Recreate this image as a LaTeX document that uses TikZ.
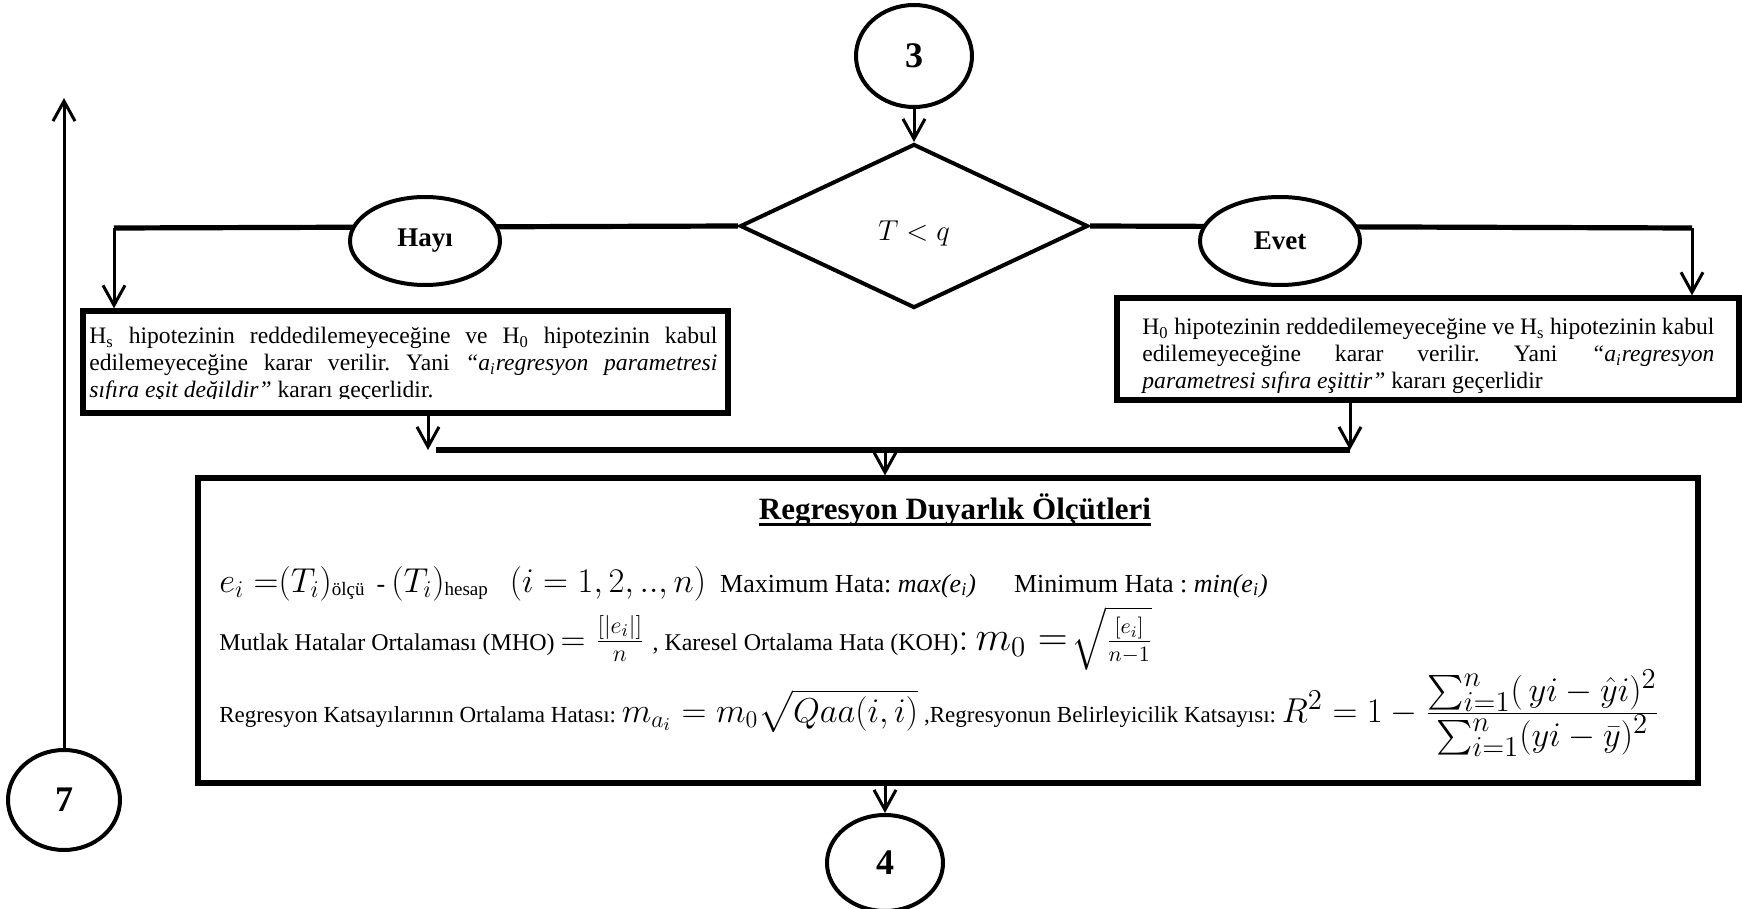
\documentclass[tikz,border=0pt]{standalone}
\usepackage{fontspec}
\setmainfont{Liberation Serif}
\usepackage{amsmath}
\usetikzlibrary{shapes.geometric,arrows.meta}
\hyphenpenalty=10000
\exhyphenpenalty=10000
\frenchspacing
\begin{document}
\begin{tikzpicture}[x=0.5pt,y=-0.5pt,
  arr/.style={-{Straight Barb[length=10pt,width=11pt]}},
  conn/.style={line width=1.5pt},
  heavy/.style={line width=2.6pt},
  term/.style={ellipse,draw,line width=2pt,fill=white,inner sep=0pt,
    font=\bfseries\fontsize{18}{20}\selectfont},
  answer/.style={ellipse,draw,line width=2pt,fill=white,inner sep=0pt,
    font=\bfseries\fontsize{13.5}{15}\selectfont},
  panel/.style={draw,line width=2.6pt,rectangle,inner sep=0pt},
  body/.style={inner sep=0pt,font=\fontsize{11.8}{13.5}\selectfont},
  mline/.style={inner sep=0pt,anchor=base west,font=\fontsize{12}{14}\selectfont}
]
\useasboundingbox (0,0) rectangle (1742,909);

% decision part
\node[term, minimum width=58pt, minimum height=51pt] (c3) at (914,56) {3};
\node[draw, diamond, line width=2pt, minimum width=174pt, minimum height=82pt,
      inner sep=0pt] (dia) at (914,226) {};
\node[inner sep=0pt, font=\fontsize{14.5}{16}\selectfont] (dq) at ([yshift=-3.5pt]dia.center) {$T<q$};

% result boxes
\node[panel, minimum width=322.5pt, minimum height=51pt] (lbox) at (405.5,362) {};
\node[panel, minimum width=311pt, minimum height=51pt] (rbox) at (1428,349) {};
\begin{scope}
  \clip (85,313) rectangle (726,399);
  \node[body, text width=314pt, align=justify, anchor=north west] (ltext) at (89,327)
  {H\textsubscript{s} hipotezinin reddedilemeyeceğine ve H\textsubscript{0} hipotezinin kabul\linebreak
   edilemeyeceğine karar verilir. Yani \textit{“a\textsubscript{i}regresyon parametresi}\linebreak
   \textit{sıfıra eşit değildir”} kararı geçerlidir.};
\end{scope}
\node[body, text width=286pt, align=justify, anchor=north west] (rtext) at (1142,318)
  {H\textsubscript{0} hipotezinin reddedilemeyeceğine ve H\textsubscript{s} hipotezinin kabul\linebreak
   edilemeyeceğine karar verilir. Yani \textit{“a\textsubscript{i}regresyon}\linebreak
   \textit{parametresi sıfıra eşittir”} kararı geçerlidir};

% measures box
\node[panel, minimum width=750pt, minimum height=152.5pt] (big) at (948,630.5) {};
\node[inner sep=0pt, font=\bfseries\fontsize{15.5}{17}\selectfont, anchor=base] (title) at (955,519)
  {Regresyon Duyarlık Ölçütleri};
\draw[line width=1.4pt] ([yshift=-2.8pt]title.base west) -- ([yshift=-2.8pt]title.base east);

\node[mline, font=\fontsize{13}{15}\selectfont] (m1) at (219,592)
  {{\fontsize{17}{20}\selectfont $e_i\;{=}(T_i)$}\raisebox{-1.5pt}{\fontsize{9.5}{10}\selectfont ölçü}\hspace{6pt}-\hspace{3pt}%
   {\fontsize{17}{20}\selectfont $(T_i)$}\raisebox{-1.5pt}{\fontsize{9.5}{10}\selectfont hesap}\hspace{11pt}%
   {\fontsize{18}{20}\selectfont $(i=1,2,..,n)$}\hspace{7pt}Maximum Hata: \textit{max(e\textsubscript{i})}\hspace{19pt}%
   Minimum Hata : \textit{min(e\textsubscript{i})}};
\node[mline] (m2) at (219,650)
  {Mutlak Hatalar Ortalaması (MHO) {\fontsize{18}{20}\selectfont $=\frac{[|e_i|]}{n}$}\hspace{4pt}, Karesel Ortalama Hata (KOH)%
   {\fontsize{20}{22}\selectfont ${:}\,m_0=$}\hspace{2pt}{\fontsize{16}{18}\selectfont $\sqrt{\frac{[e_i]}{n-1}}$}};
\node[mline, font=\fontsize{11.5}{13.5}\selectfont] (m3) at (219,722)
  {Regresyon Katsayılarının Ortalama Hatası: {\fontsize{17.5}{19}\selectfont $m_{a_i}=m_0\sqrt{Qaa(i,i)}$}\hspace{3pt},Regresyonun Belirleyicilik Katsayısı:
   {\fontsize{19}{22}\selectfont $R^2=1-\frac{\textstyle\sum_{i=1}^{n}(\,yi-\hat{y}i)^2}{\textstyle\sum_{i=1}^{n}(yi-\bar{y})^2}$}};

\node[term, minimum width=58pt, minimum height=48pt] (c4) at (885,863) {4};
\node[term, minimum width=56pt, minimum height=50pt] (c7) at (64,800) {7};

% connectors
\coordinate (lturn) at (114,228);
\coordinate (rturn) at (1692,228);
\coordinate (jl) at (428,450);
\coordinate (jm) at (885,450);
\coordinate (jr) at (1350,450);
\coordinate (top7) at (64,98);

\draw[conn, arr] (c3) -- (dia.north);
\draw[heavy] (dia.west) -- (lturn);
\draw[conn, arr] (lturn) -- (lturn |- lbox.north);
\draw[heavy] (dia.east) -- (rturn);
\draw[conn, arr] (rturn) -- (rturn |- rbox.north);
\draw[conn, arr] (jl |- lbox.south) -- (jl);
\draw[conn, arr] (jr |- rbox.south) -- (jr);
\draw[heavy] ([xshift=4pt]jl) -- (jr);
\draw[conn, arr] (jm) -- (jm |- big.north);
\draw[conn, arr] (big.south -| c4) -- (c4.north);
\draw[conn, arr] (c7) -- (top7);

\node[answer, minimum width=75pt, minimum height=44pt] (hayi) at (425,241) {Hayı};
\node[answer, minimum width=80pt, minimum height=44pt] (evet) at (1280,241) {Evet};
\end{tikzpicture}
\end{document}
